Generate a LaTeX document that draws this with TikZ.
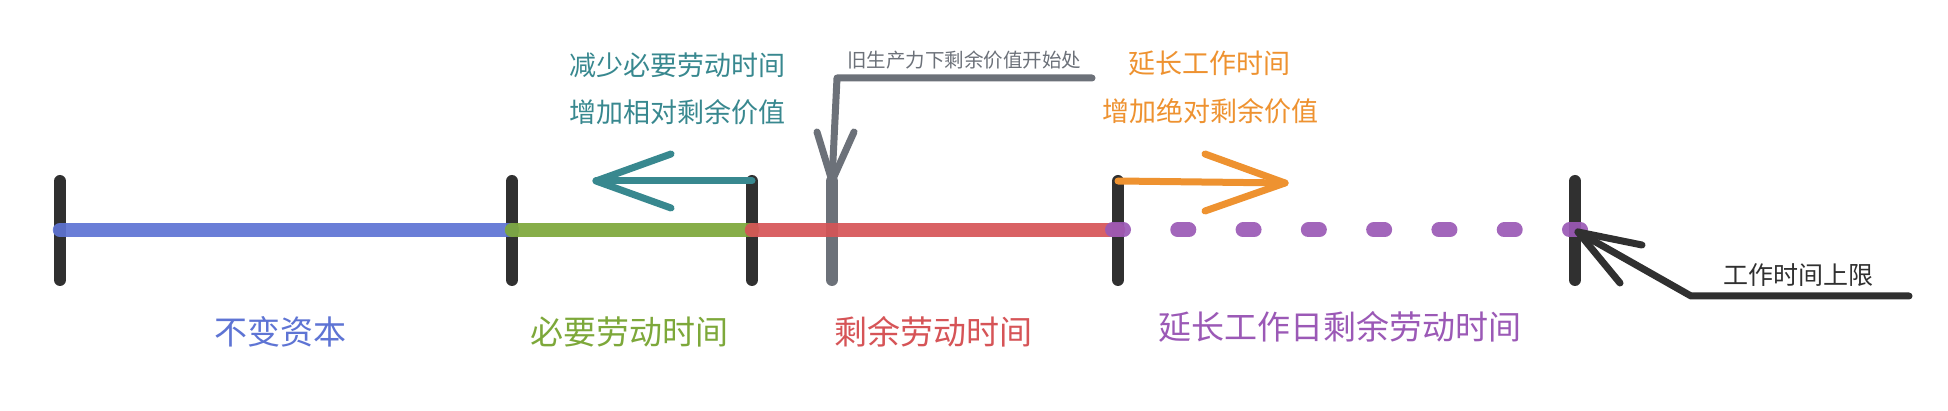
\documentclass[tikz,border=0pt]{standalone}
\usepackage{fontspec}
\setmainfont{Noto Sans CJK SC}
\usetikzlibrary{calc}
\definecolor{cblue}{HTML}{5E74D4}
\definecolor{cgreen}{HTML}{7DA83A}
\definecolor{cred}{HTML}{D65457}
\definecolor{cpurple}{HTML}{9B59B6}
\definecolor{cteal}{HTML}{38888F}
\definecolor{corange}{HTML}{EE9230}
\definecolor{cgray}{HTML}{6C7179}
\definecolor{cblack}{HTML}{303030}
\begin{document}
\begin{tikzpicture}[x=1pt,y=-1pt,line cap=round,line join=round,
  tickmark/.style={line width=12pt,cblack},
  segment/.style={line width=14.5pt,opacity=0.92},
  leader/.style={line width=7pt},
  lbl/.style={font=\fontsize{33}{36}\selectfont,inner sep=0pt,anchor=center},
  note/.style={font=\fontsize{27}{30}\selectfont,inner sep=0pt,anchor=center}]
\useasboundingbox (0,0) rectangle (1948,411);
\fill[white] (0,0) rectangle (1948,411);
% tick positions
\coordinate (a) at (60,230);   \coordinate (atop) at (60,181);   \coordinate (abot) at (60,280);
\coordinate (b) at (512,230);  \coordinate (btop) at (512,181);  \coordinate (bbot) at (512,280);
\coordinate (c) at (752,230);  \coordinate (ctop) at (752,181);  \coordinate (cbot) at (752,280);
\coordinate (g) at (832,230);  \coordinate (gtop) at (832,181);  \coordinate (gbot) at (832,280);
\coordinate (d) at (1118,230); \coordinate (dtop) at (1118,181); \coordinate (dbot) at (1118,280);
\coordinate (e) at (1575,230); \coordinate (etop) at (1575,181); \coordinate (ebot) at (1575,280);
% ticks
\draw[tickmark] (atop) -- (abot);
\draw[tickmark] (btop) -- (bbot);
\draw[tickmark] (ctop) -- (cbot);
\draw[tickmark] (dtop) -- (dbot);
\draw[tickmark] (etop) -- (ebot);
\draw[tickmark,cgray] (gtop) -- (gbot);
% segments
\draw[segment,cblue] (a) -- (b);
\draw[segment,cgreen] (b) -- (c);
\draw[segment,cred] (c) -- (d);
\foreach \i in {0,...,7}{
  \draw[cpurple,opacity=0.92,line width=15pt] ($(d)!\i/7!(e)+(-5.5,0)$) -- ++(11,0);
}
% teal arrow
\coordinate (tealtip) at (596,181);
\coordinate (tealu) at (671,154);
\coordinate (teall) at (671,208);
\draw[leader,cteal] (ctop) -- (tealtip);
\draw[leader,cteal] (tealu) -- (tealtip) -- (teall);
% gray leader
\coordinate (gbend) at (837,78);
\coordinate (gend) at (1092,78);
\coordinate (gl) at (817,132);
\coordinate (gr) at (854,132);
\draw[leader,cgray] (gend) -- (gbend) -- (gtop);
\draw[leader,cgray] (gl) -- (gtop) -- (gr);
% orange arrow
\coordinate (otip) at (1285,183);
\coordinate (ou) at (1205,154);
\coordinate (ol) at (1205,211);
\draw[leader,corange] (dtop) -- (otip);
\draw[leader,corange] (ou) -- (otip) -- (ol);
% black arrow
\coordinate (btip) at (1578,232);
\coordinate (bu) at (1642,245);
\coordinate (bl) at (1620,283);
\coordinate (bbend) at (1691,296);
\coordinate (bend) at (1909,296);
\draw[leader,cblack] (bend) -- (bbend) -- (btip);
\draw[leader,cblack] (bu) -- (btip) -- (bl);
% texts
\node[note,text=cteal] (t1) at (677,65) {减少必要劳动时间};
\node[note,text=cteal] (t2) at (677,112) {增加相对剩余价值};
\node[inner sep=0pt,font=\fontsize{19.5}{22}\selectfont,text=cgray] (gt) at (964,60) {旧生产力下剩余价值开始处};
\node[note,text=corange] (o1) at (1209,63) {延长工作时间};
\node[note,text=corange] (o2) at (1210,111) {增加绝对剩余价值};
\node[inner sep=0pt,font=\fontsize{25}{28}\selectfont,text=cblack] (bt) at (1798,275) {工作时间上限};
\node[lbl,text=cblue] (l1) at (280,332) {不变资本};
\node[lbl,text=cgreen] (l2) at (629,332) {必要劳动时间};
\node[lbl,text=cred] (l3) at (933,332) {剩余劳动时间};
\node[lbl,text=cpurple] (l4) at (1340,327) {延长工作日剩余劳动时间};
\end{tikzpicture}
\end{document}
